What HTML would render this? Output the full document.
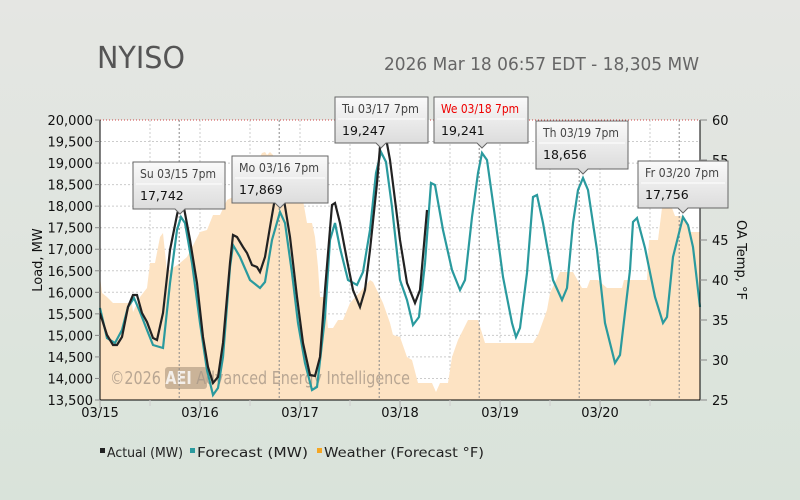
<!DOCTYPE html>
<html><head><meta charset="utf-8"><style>
html,body{margin:0;padding:0}
body{width:800px;height:500px;overflow:hidden;background:linear-gradient(#e5e6e3,#d9e3da);font-family:"Liberation Sans","DejaVu Sans",sans-serif}
svg{display:block}
svg text{font-family:"DejaVu Sans","Liberation Sans",sans-serif}
</style></head><body>
<svg id="s" width="800" height="500" xmlns="http://www.w3.org/2000/svg">
<defs><linearGradient id="tg" x1="0" y1="0" x2="0" y2="1"><stop offset="0" stop-color="#fafafa"/><stop offset="1" stop-color="#d9d9d9"/></linearGradient></defs>
<text x="97" y="68" font-size="30" fill="#555" textLength="88" lengthAdjust="spacingAndGlyphs">NYISO</text>
<text x="384" y="70" font-size="18" fill="#666" textLength="315" lengthAdjust="spacingAndGlyphs">2026 Mar 18 06:57 EDT - 18,305 MW</text>
<rect x="100" y="120" width="600" height="280" fill="#fff"/>
<g id="grid"></g>
<polygon id="wx" fill="#fde3c3"/>
<rect x="165" y="367" width="42" height="22" rx="3" fill="#a08c74" opacity="0.55"/>
<text x="110" y="384" font-size="18" fill="#a89888" opacity="0.8" textLength="300" lengthAdjust="spacingAndGlyphs">©2026 <tspan fill="#fff" style="font-weight:bold">AEI</tspan> Advanced Energy Intelligence</text>
<g id="dots"></g>
<polyline id="fc" fill="none" stroke="#2a9a9e" stroke-width="2.2"/>
<polyline id="ac" fill="none" stroke="#222" stroke-width="2.2"/>
<line x1="100" y1="120" x2="700" y2="120" stroke="#c44" stroke-dasharray="1,2" stroke-width="1"/>
<line x1="100" y1="120" x2="100" y2="400" stroke="#000"/>
<line x1="700" y1="120" x2="700" y2="400" stroke="#000"/>
<line x1="100" y1="400" x2="700" y2="400" stroke="#000"/>
<g id="ax" font-size="13" fill="#111"></g>
<text transform="translate(42,260) rotate(-90)" text-anchor="middle" font-size="13" fill="#111">Load, MW</text>
<text transform="translate(737,260) rotate(90)" text-anchor="middle" font-size="13" fill="#111">OA Temp, °F</text>
<g id="tips"></g>
<g font-size="13.5" fill="#222">
<rect x="100" y="448" width="5" height="5" fill="#222"/><text x="107" y="457" textLength="76" lengthAdjust="spacingAndGlyphs">Actual (MW)</text>
<rect x="190" y="448" width="5" height="5" fill="#2a9a9e"/><text x="197" y="457" textLength="111" lengthAdjust="spacingAndGlyphs">Forecast (MW)</text>
<rect x="317" y="448" width="5" height="5" fill="#f5a623"/><text x="324" y="457" textLength="160" lengthAdjust="spacingAndGlyphs">Weather (Forecast °F)</text>
</g>
</svg>
<script>
var NS="http://www.w3.org/2000/svg";
function el(p,t,a,txt){var e=document.createElementNS(NS,t);for(var k in a)e.setAttribute(k,a[k]);if(txt!=null)e.textContent=txt;document.getElementById(p).appendChild(e);return e;}
for(var i=1;i<13;i++){var y=400-i*280/13;el('grid','line',{x1:100,x2:700,y1:y,y2:y,stroke:'#ccc','stroke-dasharray':'2,2'});}
for(var i=1;i<12;i++){var x=100+i*50;el('grid','line',{x1:x,x2:x,y1:120,y2:400,stroke:'#ccc','stroke-dasharray':'2,2'});}
for(var d=0;d<6;d++){var x=100+d*100+79.2;el('dots','line',{x1:x,x2:x,y1:120,y2:400,stroke:'#888','stroke-dasharray':'2,2'});}
for(var i=0;i<=13;i++){var v=13500+i*500,y=400-i*280/13;el('ax','text',{x:93,y:y+5,'text-anchor':'end'},v.toLocaleString('en-US'));el('ax','line',{x1:95,x2:100,y1:y,y2:y,stroke:'#888'});}
for(var i=0;i<=7;i++){var y=400-i*40;el('ax','text',{x:712,y:y+5},String(25+i*5));el('ax','line',{x1:700,x2:707,y1:y,y2:y,stroke:'#888'});}
var days=['03/15','03/16','03/17','03/18','03/19','03/20'];
for(var d=0;d<6;d++){var x=100+d*100;el('ax','text',{x:x,y:417,'text-anchor':'middle'},days[d]);el('ax','line',{x1:x,x2:x,y1:400,y2:408,stroke:'#aaa'});el('ax','line',{x1:x+50,x2:x+50,y1:400,y2:406,stroke:'#ccc'});}
var A="100,313 107,335 113,345 117,345 122,337 128,307 133,295 137,295 142,313 147,322 153,338 157,340 163,313 170,250 177,215 180,202 184,208 190,240 197,283 203,337 208,367 213,383 218,377 223,343 230,263 233,235 237,237 243,247 247,253 252,265 257,267 260,272 265,257 270,227 275,198 280,190 284,200 290,237 297,297 303,343 310,375 315,376 320,357 325,290 332,205 335,203 340,223 347,260 353,290 360,307 365,290 370,250 377,183 381,135 386,138 390,160 395,200 400,240 407,283 415,303 420,290 427,210";
var F="100,308 107,338 115,343 122,330 128,307 134,298 140,312 147,330 153,345 163,348 170,283 177,230 181,217 185,223 192,263 200,323 207,370 213,395 218,388 223,357 230,267 233,245 240,257 250,280 260,288 265,282 272,240 280,212 285,223 292,273 298,323 305,363 312,390 317,387 325,317 330,240 335,223 340,248 348,280 357,285 363,272 370,230 376,173 381,152 386,162 392,207 400,280 407,300 413,325 419,317 425,263 431,183 435,185 443,230 452,270 460,290 465,280 472,217 478,173 482,153 487,160 495,217 503,277 512,323 516,337 520,328 527,273 533,197 537,195 543,223 553,280 562,300 567,288 573,223 578,190 583,178 588,190 597,250 605,323 615,363 620,355 630,270 633,222 637,218 645,248 655,297 663,323 667,317 673,257 683,217 688,225 693,247 700,307";
var W="100,277 102,293 107,297 113,303 132,303 133,312 140,297 147,288 150,263 155,263 160,237 163,233 167,272 180,263 187,257 200,232 207,230 213,215 220,215 227,200 233,197 240,190 253,170 262,153 265,152 267,155 270,152 273,155 277,170 287,177 300,183 307,223 312,223 315,237 318,267 320,297 325,297 328,328 333,328 338,320 343,320 350,303 360,292 370,280 373,282 383,303 390,323 393,335 400,337 407,357 412,360 418,383 432,383 436,392 440,383 448,383 452,357 458,340 468,320 478,320 485,343 533,343 538,335 547,310 550,293 560,272 573,272 582,288 587,288 590,280 598,280 607,288 622,288 624,280 647,280 649,240 658,240 662,208 672,208 675,216 683,216 690,232 700,232";
document.getElementById('ac').setAttribute('points',A);
document.getElementById('fc').setAttribute('points',F);
document.getElementById('wx').setAttribute('points',W+" 700,400 100,400");
var T=[[133,162,92,47,'Su 03/15 7pm','17,742',180,212,0],[232,156,96,47,'Mo 03/16 7pm','17,869',280,206,0],[335,97,93,46,'Tu 03/17 7pm','19,247',381,150,0],[434,97,94,46,'We 03/18 7pm','19,241',482,150,1],[536,121,92,48,'Th 03/19 7pm','18,656',583,175,0],[638,161,90,47,'Fr 03/20 7pm','17,756',683,214,0]];
T.forEach(function(t){var x=t[0],y=t[1],w=t[2],h=t[3],px=t[6],by=y+h;
el('tips','path',{d:'M'+x+','+y+'h'+w+'v'+h+'H'+(px+5)+'L'+px+','+(by+5)+'L'+(px-5)+','+by+'H'+x+'Z',fill:'url(#tg)',stroke:'#666','stroke-width':1});
el('tips','line',{x1:x+3,x2:x+w-3,y1:y+22,y2:y+22,stroke:'#fff'});
el('tips','text',{x:x+7,y:y+16,'font-size':12.5,fill:t[8]?'#e00':'#444',textLength:w-16,lengthAdjust:'spacingAndGlyphs'},t[4]);
el('tips','text',{x:x+7,y:y+38,'font-size':12.5,fill:'#111'},t[5]);});
</script>
</body></html>
